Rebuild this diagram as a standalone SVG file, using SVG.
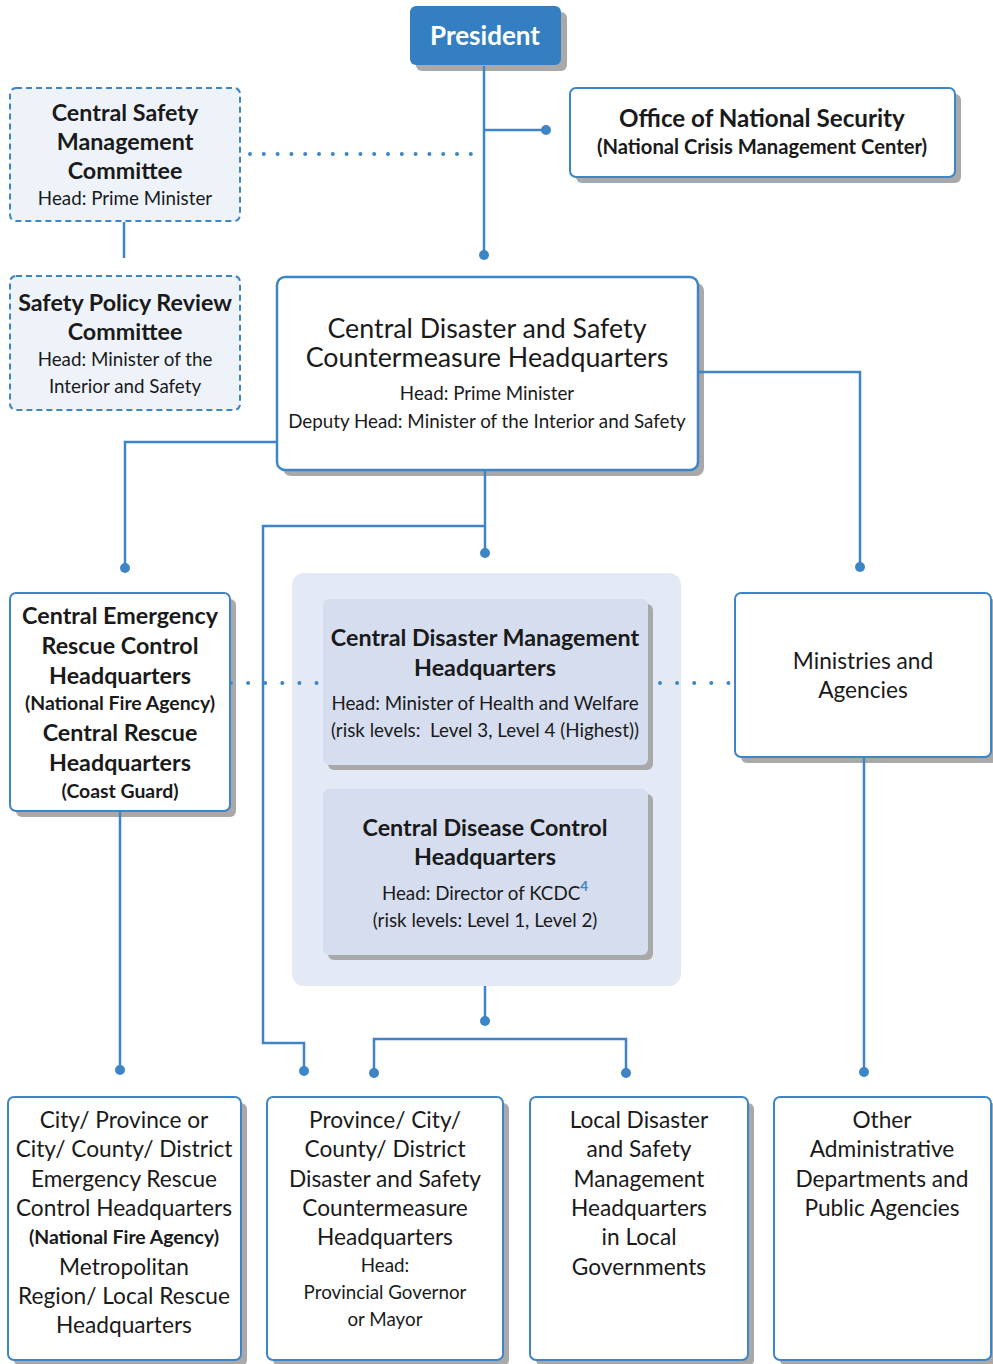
<svg xmlns="http://www.w3.org/2000/svg" width="993" height="1364" viewBox="0 0 993 1364">
  <style>
    text { font-family: Lato, "Liberation Sans", sans-serif; fill: #1a1a1a; text-anchor: middle; }
    .b { font-weight: bold; }
    .r22 { font-size: 22.7px; }
    .b22 { font-size: 23.3px; font-weight: bold; }
    .t26 { font-size: 26.8px; }
    .t18 { font-size: 18.8px; }
    .b19 { font-size: 19.4px; font-weight: bold; }
    .box { fill: #ffffff; stroke: #3d85c6; stroke-width: 2; }
    .dash { fill: #eef3fa; stroke: #3d85c6; stroke-width: 2; stroke-dasharray: 6 4; }
    .shadow { fill: #a9a9a9; }
    .inner { fill: #d5ddef; }
    .line { fill: none; stroke: #3d85c6; stroke-width: 2.5; }
    .dots { fill: none; stroke: #3d85c6; stroke-width: 4; stroke-linecap: round; }
    .dot { fill: #3d85c6; }
  </style>

  <!-- Central Disaster Management / Disease Control group background -->
  <g id="central-disaster-management-group">
    <rect x="292" y="573" width="389" height="413" rx="12" fill="#e3e9f5"/>
  </g>

  <!-- President -->
  <g id="president">
    <rect class="shadow" x="416" y="12" width="151" height="59" rx="6"/>
    <rect x="410" y="6" width="151" height="59" rx="6" fill="#337fc2"/>
    <text class="b" x="485" y="45" style="fill:#ffffff;font-size:26px">President</text>
  </g>

  <!-- Office of National Security -->
  <g id="office-national-security">
    <rect class="shadow" x="576" y="94" width="385" height="89" rx="6"/>
    <rect class="box" x="570" y="88" width="385" height="89" rx="6"/>
    <text class="b" x="762" y="127" style="font-size:24.2px">Office of National Security</text>
    <text class="b19" x="762" y="154" style="font-size:20.2px">(National Crisis Management Center)</text>
  </g>

  <!-- Central Safety Management Committee -->
  <g id="central-safety-management-committee">
    <rect class="dash" x="10" y="88" width="230" height="133" rx="6"/>
    <text class="b22" x="125" y="121">Central Safety</text>
    <text class="b22" x="125" y="150">Management</text>
    <text class="b22" x="125" y="179">Committee</text>
    <text class="t18" x="125" y="205">Head: Prime Minister</text>
  </g>

  <!-- Safety Policy Review Committee -->
  <g id="safety-policy-review-committee">
    <rect class="dash" x="10" y="276" width="230" height="134" rx="6"/>
    <text class="b22" x="125" y="311">Safety Policy Review</text>
    <text class="b22" x="125" y="340">Committee</text>
    <text class="t18" x="125" y="366">Head: Minister of the</text>
    <text class="t18" x="125" y="393">Interior and Safety</text>
  </g>

  <!-- Central Disaster and Safety Countermeasure Headquarters -->
  <g id="central-disaster-safety-hq">
    <rect class="shadow" x="283" y="283" width="421" height="193" rx="8"/>
    <rect class="box" x="277" y="277" width="421" height="193" rx="8" style="stroke-width:2.5"/>
    <text class="t26" x="487" y="338">Central Disaster and Safety</text>
    <text class="t26" x="487" y="367">Countermeasure Headquarters</text>
    <text class="t18" x="487" y="400">Head: Prime Minister</text>
    <text class="t18" x="487" y="428">Deputy Head: Minister of the Interior and Safety</text>
  </g>

  <!-- Central Emergency Rescue Control Headquarters -->
  <g id="central-emergency-rescue">
    <rect class="shadow" x="16" y="599" width="220" height="218" rx="6"/>
    <rect class="box" x="10" y="593" width="220" height="218" rx="6"/>
    <text class="b22" x="120" y="624">Central Emergency</text>
    <text class="b22" x="120" y="654">Rescue Control</text>
    <text class="b22" x="120" y="684">Headquarters</text>
    <text class="b19" x="120" y="710">(National Fire Agency)</text>
    <text class="b22" x="120" y="741">Central Rescue</text>
    <text class="b22" x="120" y="771">Headquarters</text>
    <text class="b19" x="120" y="798">(Coast Guard)</text>
  </g>

  <g id="central-disaster-management-hq">
    <rect class="shadow" x="328" y="604" width="325" height="166" rx="6"/>
    <rect class="inner" x="323" y="599" width="325" height="166" rx="6"/>
    <text class="b22" x="485" y="646">Central Disaster Management</text>
    <text class="b22" x="485" y="676">Headquarters</text>
    <text class="t18" x="485" y="710">Head: Minister of Health and Welfare</text>
    <text class="t18" x="485" y="737" xml:space="preserve">(risk levels:  Level 3, Level 4 (Highest))</text>
  </g>

  <g id="central-disease-control-hq">
    <rect class="shadow" x="328" y="794" width="325" height="166" rx="6"/>
    <rect class="inner" x="323" y="789" width="325" height="166" rx="6"/>
    <text class="b22" x="485" y="836">Central Disease Control</text>
    <text class="b22" x="485" y="865">Headquarters</text>
    <text class="t18" x="485" y="900">Head: Director of KCDC<tspan dy="-9" font-size="13.5" font-weight="bold" style="fill:#3d85c6">4</tspan></text>
    <text class="t18" x="485" y="927">(risk levels: Level 1, Level 2)</text>
  </g>

  <!-- Ministries and Agencies -->
  <g id="ministries-agencies">
    <rect class="shadow" x="741" y="599" width="256" height="164" rx="6"/>
    <rect class="box" x="735" y="593" width="256" height="164" rx="6"/>
    <text class="r22" x="863" y="669">Ministries and</text>
    <text class="r22" x="863" y="698">Agencies</text>
  </g>

  <!-- Local level -->
  <g id="local-emergency-rescue">
    <rect class="shadow" x="14" y="1103" width="233" height="263" rx="6"/>
    <rect class="box" x="8" y="1097" width="233" height="263" rx="6"/>
    <text class="r22" x="124" y="1128">City/ Province or</text>
    <text class="r22" x="124" y="1157">City/ County/ District</text>
    <text class="r22" x="124" y="1187">Emergency Rescue</text>
    <text class="r22" x="124" y="1216">Control Headquarters</text>
    <text class="b19" x="124" y="1244">(National Fire Agency)</text>
    <text class="r22" x="124" y="1275">Metropolitan</text>
    <text class="r22" x="124" y="1304">Region/ Local Rescue</text>
    <text class="r22" x="124" y="1333">Headquarters</text>
  </g>

  <g id="local-disaster-safety-countermeasure">
    <rect class="shadow" x="273" y="1103" width="236" height="263" rx="6"/>
    <rect class="box" x="267" y="1097" width="236" height="263" rx="6"/>
    <text class="r22" x="385" y="1128">Province/ City/</text>
    <text class="r22" x="385" y="1157">County/ District</text>
    <text class="r22" x="385" y="1187">Disaster and Safety</text>
    <text class="r22" x="385" y="1216">Countermeasure</text>
    <text class="r22" x="385" y="1245">Headquarters</text>
    <text class="t18" x="385" y="1272">Head:</text>
    <text class="t18" x="385" y="1299">Provincial Governor</text>
    <text class="t18" x="385" y="1326">or Mayor</text>
  </g>

  <g id="local-disaster-safety-management">
    <rect class="shadow" x="536" y="1103" width="218" height="263" rx="6"/>
    <rect class="box" x="530" y="1097" width="218" height="263" rx="6"/>
    <text class="r22" x="639" y="1128">Local Disaster</text>
    <text class="r22" x="639" y="1157">and Safety</text>
    <text class="r22" x="639" y="1187">Management</text>
    <text class="r22" x="639" y="1216">Headquarters</text>
    <text class="r22" x="639" y="1245">in Local</text>
    <text class="r22" x="639" y="1275">Governments</text>
  </g>

  <g id="other-administrative">
    <rect class="shadow" x="780" y="1103" width="217" height="263" rx="6"/>
    <rect class="box" x="774" y="1097" width="217" height="263" rx="6"/>
    <text class="r22" x="882" y="1128">Other</text>
    <text class="r22" x="882" y="1157">Administrative</text>
    <text class="r22" x="882" y="1187">Departments and</text>
    <text class="r22" x="882" y="1216">Public Agencies</text>
  </g>

  <!-- connectors (drawn last so dotted links sit over box edges) -->
  <g id="connectors">
    <path class="line" d="M484 66 V255"/>
    <path class="line" d="M484 130 H546"/>
    <path class="line" d="M124 222 V258"/>
    <path class="dots" d="M250 154 H471" stroke-dasharray="0 13.8"/>
    <path class="line" d="M276 442 H125 V568"/>
    <path class="line" d="M699 372 H860 V567"/>
    <path class="line" d="M485 471 V553"/>
    <path class="line" d="M485 526 H263 V1043 H304 V1071"/>
    <path class="dots" d="M231 683 H318" stroke-dasharray="0 17.1"/>
    <path class="dots" d="M660 683 H729" stroke-dasharray="0 17.1"/>
    <path class="line" d="M120 812 V1070"/>
    <path class="line" d="M864 758 V1072"/>
    <path class="line" d="M485 986 V1021"/>
    <path class="line" d="M374 1073 V1039 H626 V1073"/>
    <circle class="dot" cx="484" cy="255" r="5"/>
    <circle class="dot" cx="546" cy="130" r="5"/>
    <circle class="dot" cx="125" cy="568" r="5"/>
    <circle class="dot" cx="860" cy="567" r="5"/>
    <circle class="dot" cx="485" cy="553" r="5"/>
    <circle class="dot" cx="304" cy="1071" r="5"/>
    <circle class="dot" cx="120" cy="1070" r="5"/>
    <circle class="dot" cx="864" cy="1072" r="5"/>
    <circle class="dot" cx="485" cy="1021" r="5"/>
    <circle class="dot" cx="374" cy="1073" r="5"/>
    <circle class="dot" cx="626" cy="1073" r="5"/>
  </g>
</svg>
